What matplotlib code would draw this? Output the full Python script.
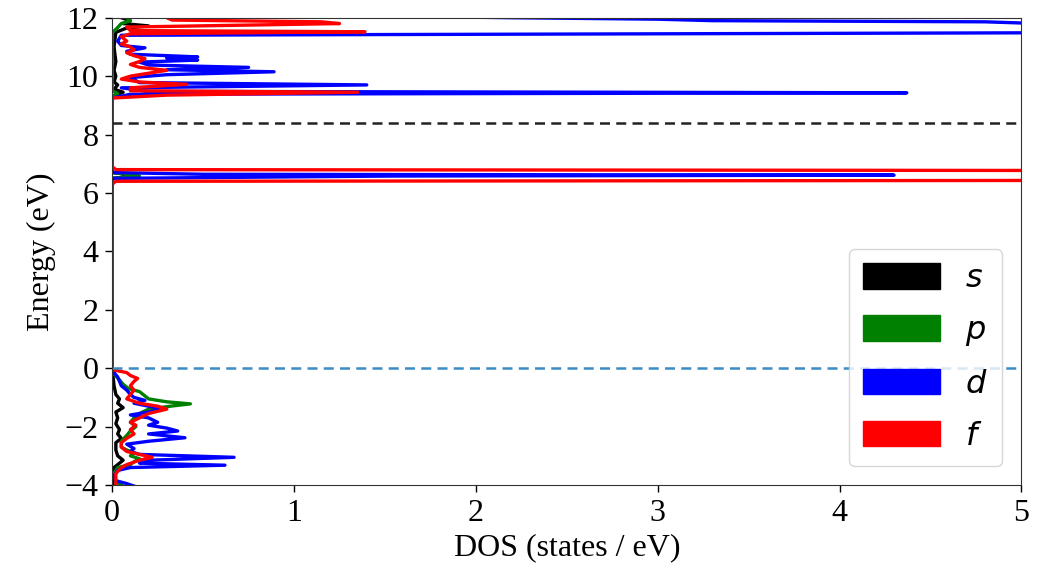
import matplotlib
matplotlib.use("Agg")
import matplotlib.pyplot as plt
from matplotlib.patches import Patch

# ---- data ----
s_energy = [-4.1, -4.0, -3.4, -3.3, -3.15, -3.0, -2.8, -2.55, -2.4, -2.25,
            -2.1, -1.9, -1.7, -1.5, -1.35, -1.2, -1.05, -0.9, -0.6, -0.3,
            -0.05, 6.5, 6.58, 6.62, 6.7, 9.3, 9.38, 9.45, 9.55, 9.7,
            9.8, 10.0, 10.2, 10.5, 11.0, 11.5, 11.65, 11.72, 11.8, 11.9,
            12.0, 12.1]
s_dos = [0.01, 0.005, 0.01, 0.03, 0.06, 0.03, 0.02, 0.02, 0.05, 0.03,
         0.04, 0.02, 0.03, 0.02, 0.06, 0.03, 0.04, 0.02, 0.01, 0.005,
         0, 0, 0.13, 0.1, 0, 0, 0.03, 0.06, 0.01, 0.03,
         0.01, 0.02, 0.01, 0.02, 0.01, 0.02, 0.08, 0.2, 0.06, 0.1,
         0.05, 0.05]

p_energy = [-4.1, -4.0, -3.9, -3.6, -3.4, -3.3, -3.2, -3.1, -3.0, -2.9,
            -2.8, -2.7, -2.5, -2.3, -2.15, -2.0, -1.85, -1.7, -1.55, -1.4,
            -1.3, -1.22, -1.15, -1.05, -0.9, -0.8, -0.7, -0.55, -0.4, -0.2,
            -0.05, 6.5, 6.58, 6.62, 6.7, 9.3, 9.4, 9.5, 11.5, 11.6,
            11.8, 11.9, 12.0, 12.1]
p_dos = [0.08, 0.05, 0.02, 0.01, 0.03, 0.1, 0.12, 0.15, 0.1, 0.12,
         0.08, 0.05, 0.05, 0.08, 0.1, 0.13, 0.1, 0.12, 0.15, 0.2,
         0.32, 0.43, 0.3, 0.2, 0.17, 0.15, 0.09, 0.06, 0.04, 0.01,
         0, 0, 0.15, 0.12, 0, 0, 0.03, 0, 0, 0.02,
         0.05, 0.1, 0.08, 0.06]

d_energy = [-4.1, -3.95, -3.85, -3.7, -3.5, -3.4, -3.32, -3.25, -3.15, -3.05,
            -2.95, -2.85, -2.75, -2.6, -2.5, -2.38, -2.25, -2.15, -2.05, -1.95,
            -1.85, -1.7, -1.6, -1.5, -1.4, -1.3, -1.2, -1.1, -1.0, -0.9,
            -0.75, -0.6, -0.45, -0.3, -0.15, -0.05, 6.5, 6.58, 6.61, 6.64,
            6.7, 9.25, 9.38, 9.43, 9.48, 9.6, 9.7, 9.78, 9.95, 10.05,
            10.15, 10.22, 10.3, 10.38, 10.48, 10.55, 10.62, 10.66, 10.75, 10.85,
            10.97, 11.05, 11.2, 11.4, 11.5, 11.7, 11.82, 11.86, 11.9, 11.95,
            12.0, 12.1]
d_dos = [0.15, 0.08, 0.02, 0.01, 0.03, 0.1, 0.62, 0.15, 0.2, 0.67,
         0.15, 0.1, 0.12, 0.08, 0.2, 0.4, 0.2, 0.36, 0.3, 0.2,
         0.25, 0.2, 0.1, 0.2, 0.28, 0.2, 0.12, 0.18, 0.12, 0.1,
         0.08, 0.05, 0.04, 0.03, 0.01, 0, 0, 1.55, 4.3, 0.5,
         0, 0, 0.1, 4.37, 0.2, 0.05, 1.4, 0.15, 0.1, 0.3,
         0.89, 0.3, 0.75, 0.2, 0.15, 0.47, 0.3, 0.47, 0.1, 0.08,
         0.18, 0.05, 0.03, 0.05, 6, 7, 5.0, 4.8, 3.3, 3.0,
         2.2, 1.0]

f_energy = [-4.1, -4.0, -3.6, -3.4, -3.3, -3.15, -3.05, -2.95, -2.85, -2.7,
            -2.55, -2.4, -2.25, -2.1, -1.95, -1.85, -1.7, -1.55, -1.4, -1.3,
            -1.2, -1.05, -0.9, -0.75, -0.6, -0.45, -0.35, -0.25, -0.15, -0.05,
            6.3, 6.4, 6.44, 6.6, 6.76, 6.8, 6.9, 9.25, 9.35, 9.45,
            9.5, 9.6, 9.72, 9.8, 9.9, 10.0, 10.1, 10.2, 10.3, 10.4,
            10.5, 10.6, 10.7, 10.8, 10.9, 11.0, 11.1, 11.2, 11.35, 11.45,
            11.52, 11.56, 11.68, 11.8, 11.86, 11.92, 12.0, 12.1]
f_dos = [0.03, 0.02, 0.02, 0.05, 0.08, 0.15, 0.22, 0.15, 0.08, 0.05,
         0.05, 0.08, 0.12, 0.1, 0.13, 0.1, 0.15, 0.2, 0.3, 0.25,
         0.15, 0.08, 0.1, 0.12, 0.1, 0.12, 0.14, 0.1, 0.08, 0,
         0, 0.02, 7, 8, 7, 0.02, 0, 0, 0.3, 1.35,
         0.1, 0.1, 0.41, 0.15, 0.05, 0.1, 0.2, 0.3, 0.15, 0.1,
         0.15, 0.18, 0.12, 0.08, 0.12, 0.1, 0.05, 0.08, 0.05, 0.1,
         1.39, 0.1, 0.08, 1.25, 1.15, 0.33, 0.3, 0.3]

orbitals = ["$s$", "$p$", "$d$", "$f$"]
colors = ["black", "green", "blue", "red"]
fermi_level = 0.0
gap_marker = 8.4

# ---- plot ----
fig = plt.figure(figsize=(10.39, 5.72), dpi=100)
ax = fig.add_axes([0.108, 0.152, 0.875, 0.817])

series = [(s_energy, s_dos), (p_energy, p_dos), (d_energy, d_dos), (f_energy, f_dos)]
for (e, d), c in zip(series, colors):
    ax.plot(d, e, color=c, lw=2.4)

ax.axhline(fermi_level, color="#3a8cc4", ls="--", lw=1.8, dashes=(4, 2.5))
ax.axhline(gap_marker, color="#222222", ls="--", lw=1.8, dashes=(4, 2.5))

ax.set_xlim(0, 5)
ax.set_ylim(-4, 12)
ax.set_xticks([0, 1, 2, 3, 4, 5])
ax.set_yticks([-4, -2, 0, 2, 4, 6, 8, 10, 12])

serif = "Liberation Serif"
fs = 23
for lab in ax.get_xticklabels() + ax.get_yticklabels():
    lab.set_fontfamily(serif)
    lab.set_fontsize(fs)
ax.set_xlabel("DOS (states / eV)", fontfamily=serif, fontsize=fs, labelpad=4)
ax.set_ylabel("Energy (eV)", fontfamily=serif, fontsize=fs, labelpad=6)
ax.tick_params(length=5, width=1, pad=5)
for sp in ax.spines.values():
    sp.set_color("#333333")

handles = [Patch(facecolor=c, edgecolor=c) for c in colors]
ax.legend(handles, orbitals, loc="lower right", fontsize=23,
          handlelength=2.4, handleheight=0.85, handletextpad=0.8,
          labelspacing=0.65, borderpad=0.45, borderaxespad=0.6)

fig.savefig("out.png", dpi=100)
